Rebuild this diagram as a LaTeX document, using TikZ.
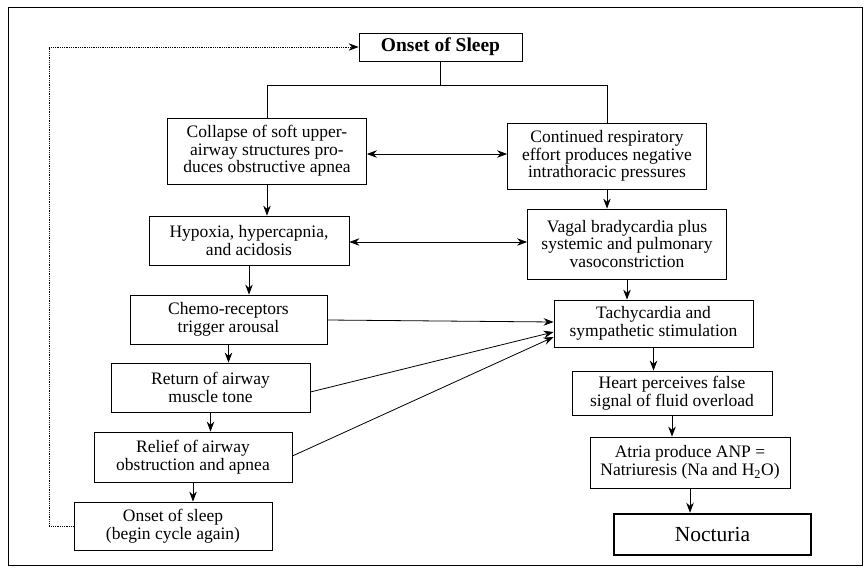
\documentclass[tikz,border=0pt]{standalone}
\usepackage{fontspec}
\setmainfont{Liberation Serif}
\usetikzlibrary{arrows.meta,calc}
\begin{document}
\begin{tikzpicture}[x=1pt,y=-1pt,
  box/.style={draw=black,line width=0.8pt,rectangle,inner sep=0pt,align=center,minimum width=199pt,font=\fontsize{17.5}{17.5}\selectfont},
  arr/.style={line width=0.8pt,-{Stealth[length=10pt,width=7.5pt]}},
  darr/.style={line width=0.8pt,{Stealth[length=10pt,width=7.5pt]}-{Stealth[length=10pt,width=7.5pt]}},
  link/.style={line width=0.8pt},
  loopline/.style={line width=0.8pt,densely dotted,-{Stealth[length=10pt,width=7.5pt]}}]
\useasboundingbox (0,0) rectangle (866,572);
\draw[line width=0.9pt] (8,7) rectangle (862,565);

\node[box,minimum width=163pt,minimum height=28pt,font=\fontsize{19.5}{19.5}\selectfont\bfseries] (onset) at (440.5,47) {Onset of Sleep};
\node[box,minimum height=66pt] (collapse) at (267,151) {Collapse of soft upper-\\airway structures pro-\\duces obstructive apnea};
\node[box,minimum height=66pt] (cont) at (607,156) {Continued respiratory\\effort produces negative\\intrathoracic pressures};
\node[box,minimum width=200pt,minimum height=49pt] (hyp) at (249,240.5) {Hypoxia, hypercapnia,\\and acidosis};
\node[box,minimum height=70pt] (vagal) at (627,244) {Vagal bradycardia plus\\systemic and pulmonary\\vasoconstriction};
\node[box,minimum width=197pt,minimum height=49pt] (chemo) at (228.5,319.5) {Chemo-receptors\\trigger arousal};
\node[box,minimum height=47pt] (tachy) at (653.5,323.5) {Tachycardia and\\sympathetic stimulation};
\node[box,minimum height=49pt] (ret) at (210.5,387.5) {Return of airway\\muscle tone};
\node[box,minimum width=200pt,minimum height=44pt] (heart) at (672,393) {Heart perceives false\\signal of fluid overload};
\node[box,minimum width=198pt,minimum height=50pt] (relief) at (193,457) {Relief of airway\\obstruction and apnea};
\node[box,minimum width=200pt,minimum height=51pt] (atria) at (690,462.5) {Atria produce ANP =\\Natriuresis (Na and H\textsubscript{2}O)};
\node[box,minimum width=198pt,minimum height=48pt] (onset2) at (173,526) {Onset of sleep\\(begin cycle again)};
\node[box,line width=2.6pt,minimum width=197pt,minimum height=41pt,font=\fontsize{21.5}{22}\selectfont] (noct) at (712.5,534.5) {Nocturia};

% split from onset
\coordinate (split) at (onset.south |- 0,85);
\draw[link] (onset.south) -- (split);
\draw[link] (collapse.north) -- (collapse.north |- split) -- (cont.north |- split) -- (cont.north);

% left chain
\draw[arr] (collapse.south) -- (collapse.south |- hyp.north);
\draw[arr] (hyp.south) -- (hyp.south |- chemo.north);
\draw[arr] (chemo.south) -- (chemo.south |- ret.north);
\draw[arr] (ret.south) -- (ret.south |- relief.north);
\draw[arr] (relief.south) -- (relief.south |- onset2.north);

% right chain
\draw[arr] (cont.south) -- (cont.south |- vagal.north);
\draw[arr] (vagal.south) -- (vagal.south |- tachy.north);
\draw[arr] (tachy.south) -- (tachy.south |- heart.north);
\draw[arr] (heart.south) -- (heart.south |- atria.north);
\draw[arr] (atria.south) -- (atria.south |- noct.north);

% double arrows
\draw[darr] (collapse.east |- 0,154) -- (cont.west |- 0,154);
\draw[darr] (hyp.east |- 0,242) -- (vagal.west |- 0,242);

% to tachycardia
\draw[arr] (chemo.east |- 0,320) -- (tachy.west |- 0,322);
\draw[arr] (ret.east |- 0,392) -- (tachy.west |- 0,332);
\draw[arr] (relief.east |- 0,456) -- (tachy.west |- 0,337);

% dotted loop
\coordinate (loopc) at (49,47);
\draw[loopline] (onset2.west) -| (loopc) -- (onset.west);
\end{tikzpicture}
\end{document}
